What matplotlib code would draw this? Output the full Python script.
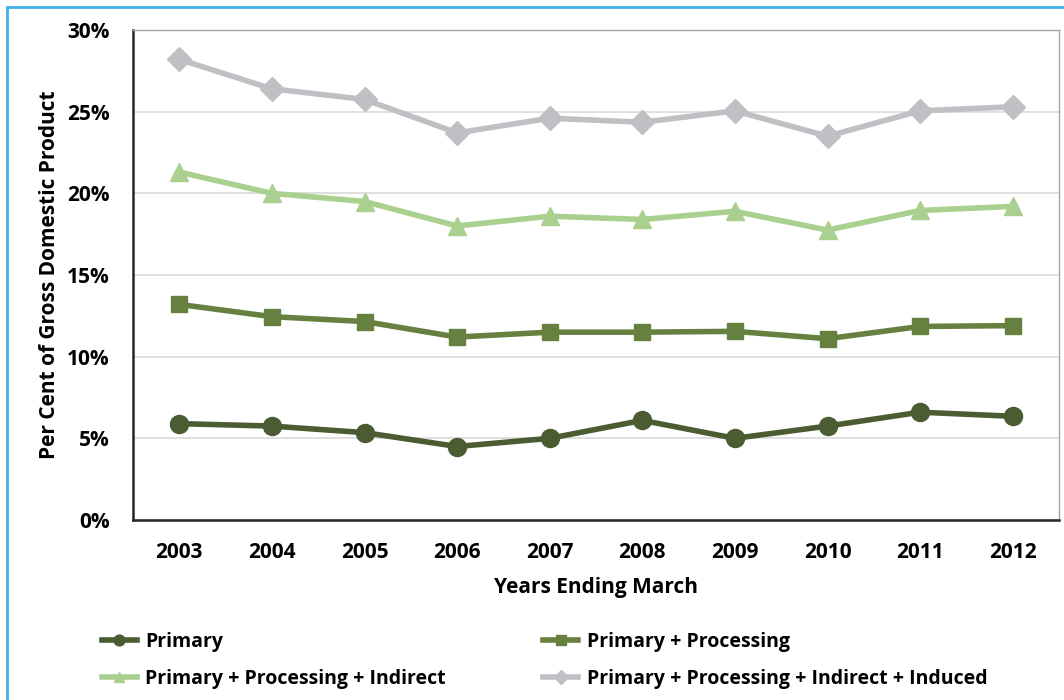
import matplotlib.pyplot as plt
import matplotlib.patches as mpatches
from matplotlib.ticker import PercentFormatter

plt.rcParams['font.family'] = ['Open Sans', 'DejaVu Sans']
plt.rcParams['font.weight'] = 'bold'

years = ['2003', '2004', '2005', '2006', '2007', '2008', '2009', '2010', '2011', '2012']
primary = [5.9, 5.75, 5.35, 4.5, 5.0, 6.1, 5.0, 5.75, 6.6, 6.35]
processing = [13.2, 12.45, 12.15, 11.2, 11.5, 11.5, 11.55, 11.1, 11.85, 11.9]
indirect = [21.3, 20.0, 19.5, 18.0, 18.6, 18.4, 18.9, 17.75, 18.95, 19.2]
induced = [28.2, 26.4, 25.75, 23.7, 24.6, 24.35, 25.05, 23.5, 25.05, 25.3]

series = [
    ('Primary', primary, '#4b5b32', 'o', 13),
    ('Primary + Processing', processing, '#66813f', 's', 11),
    ('Primary + Processing + Indirect', indirect, '#a9d08e', '^', 13),
    ('Primary + Processing + Indirect + Induced', induced, '#bfbfc4', 'D', 12),
]

fig = plt.figure(figsize=(10.64, 7.0), dpi=100)
ax = fig.add_axes([133 / 1064, 1 - 520 / 700, (1059 - 133) / 1064, 490 / 700])

x = list(range(len(years)))
lines = []
for name, vals, col, mk, ms in series:
    ln, = ax.plot(x, vals, color=col, lw=4, marker=mk, markersize=ms, label=name, zorder=3)
    lines.append(ln)

ax.set_xlim(-0.5, len(years) - 0.5)
ax.set_ylim(0, 30)
ax.set_yticks([0, 5, 10, 15, 20, 25, 30])
ax.yaxis.set_major_formatter(PercentFormatter(decimals=0))
ax.set_xticks(x)
ax.set_xticklabels(years)
ax.tick_params(axis='y', length=0, labelsize=15, pad=17)
ax.tick_params(axis='x', length=0, labelsize=15, pad=16)
for lab in ax.get_xticklabels() + ax.get_yticklabels():
    lab.set_fontweight('bold')
ax.grid(axis='y', color='#d9d9d9', lw=1.2, zorder=0)

for side in ['top', 'right']:
    ax.spines[side].set_color('#a6a6a6')
    ax.spines[side].set_linewidth(1)
for side in ['left', 'bottom']:
    ax.spines[side].set_color('#262626')
    ax.spines[side].set_linewidth(1.8)

ax.set_ylabel('Per Cent of Gross Domestic Product', fontsize=15, fontweight='bold', labelpad=5)
ax.set_xlabel('Years Ending March', fontsize=15, fontweight='bold', labelpad=10)

# column-major fill: Primary / Indirect in the left column
order = [0, 2, 1, 3]
leg = fig.legend([lines[i] for i in order], [series[i][0] for i in order],
                 loc='upper left', bbox_to_anchor=(84 / 1064, 1 - 614 / 700), ncol=2,
                 frameon=False, fontsize=14, handlelength=1.8, handletextpad=0.45,
                 columnspacing=5.0, labelspacing=0.9, markerscale=0.6)
for t in leg.get_texts():
    t.set_fontweight('bold')

# thin blue frame round the chart area
frame = mpatches.Rectangle((7 / 1064, -0.05), 1.1, 1 - 7 / 700 + 0.05, transform=fig.transFigure,
                           fill=False, edgecolor='#3fb0e8', lw=2, clip_on=False)
fig.patches.append(frame)

fig.savefig('out.png', dpi=100)
